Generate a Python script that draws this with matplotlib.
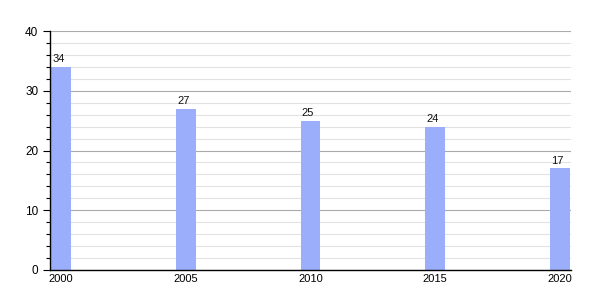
import matplotlib
matplotlib.use("Agg")
import matplotlib.pyplot as plt
from matplotlib.ticker import MultipleLocator

plt.rcParams['font.family'] = ['Liberation Sans', 'DejaVu Sans']

years = ["2000", "2005", "2010", "2015", "2020"]
values = [34, 27, 25, 24, 17]

fig = plt.figure(figsize=(6, 3), dpi=100)
ax = fig.add_axes([50/600, 30/300, 521/600, 239/300])

x = list(range(len(years)))
bars = ax.bar(x, values, width=0.16, color='#9aaefc', zorder=3)
for xi, v in zip(x, values):
    ax.text(xi - 0.02, v + 0.4, str(v), ha='center', va='bottom', fontsize=8, color='#111111', zorder=4)

ax.set_xlim(-0.088, 4.088)
ax.set_ylim(0, 40)
ax.set_xticks(x)
ax.set_xticklabels(years, fontsize=8)
for lbl in ax.get_xticklabels():
    lbl.set_x(lbl.get_position()[0])
ax.yaxis.set_major_locator(MultipleLocator(10))
ax.yaxis.set_minor_locator(MultipleLocator(2))
ax.tick_params(axis='y', which='major', labelsize=8.5, length=5, width=0.8)
ax.tick_params(axis='y', which='minor', length=3, width=0.8)
ax.tick_params(axis='x', length=0, pad=3)
ax.grid(axis='y', which='major', color='#aaaaaa', linewidth=0.8, zorder=0)
ax.grid(axis='y', which='minor', color='#e2e2e2', linewidth=0.8, zorder=0)
for s in ['top', 'right']:
    ax.spines[s].set_visible(False)
for s in ['left', 'bottom']:
    ax.spines[s].set_linewidth(1.0)
    ax.spines[s].set_zorder(5)

fig.savefig('out.png', dpi=100)
